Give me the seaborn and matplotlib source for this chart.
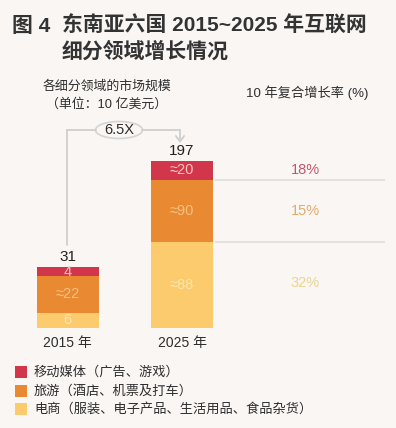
import matplotlib
matplotlib.use("Agg")
import matplotlib.pyplot as plt
import seaborn as sns
import pandas as pd
from matplotlib.patches import Ellipse, Rectangle, FancyArrowPatch
from matplotlib.lines import Line2D

# ---------------- data ----------------
years = ["2015 年", "2025 年"]
segments = ["电商", "旅游", "移动媒体"]  # bottom -> top
# drawn segment heights (chart is illustrative)
ecom_h = [15, 86]
travel_h = [37, 62]
mobile_h = [9, 19]
# printed labels
ecom_lbl = ["6", "≈88"]
travel_lbl = ["≈22", "≈90"]
mobile_lbl = ["4", "≈20"]
totals = ["31", "197"]
growth = ["18%", "15%", "32%"]  # mobile, travel, ecom
legend_labels = ["移动媒体（广告、游戏）", "旅游（酒店、机票及打车）", "电商（服装、电子产品、生活用品、食品杂货）"]

# ---------------- style ----------------
sns.set_style("white")
plt.rcParams["font.family"] = ["Liberation Sans", "Noto Sans CJK SC", "DejaVu Sans"]
BG = "#faf6f4"
RED = "#d2364b"
ORANGE = "#e98a32"
YELLOW = "#fbcb6e"
TXT = "#2e2e2e"

W, H = 396, 428
fig = plt.figure(figsize=(W / 100, H / 100), dpi=100, facecolor=BG)

def fx(px):
    return px / W

def fy(py):
    return 1 - py / H

# axes: bars baseline at y=328px, x centres at 67.5 and 182 px
base_px = 328
ax = fig.add_axes([0, fy(base_px), 1, base_px / H])
ax.set_facecolor("none")
step = 114.5
c0 = 67.5

df = pd.DataFrame({
    "year": years,
    "ecom": ecom_h,
    "travel": travel_h,
    "mobile": mobile_h,
})
df["c1"] = df["ecom"]
df["c2"] = df["ecom"] + df["travel"]
df["c3"] = df["c2"] + df["mobile"]

bw = 62 / step
sns.barplot(data=df, x="year", y="c3", color=RED, width=bw, saturation=1, ax=ax, linewidth=0)
sns.barplot(data=df, x="year", y="c2", color=ORANGE, width=bw, saturation=1, ax=ax, linewidth=0)
sns.barplot(data=df, x="year", y="c1", color=YELLOW, width=bw, saturation=1, ax=ax, linewidth=0)
ax.set_xlim(-c0 / step, (W - c0) / step)
ax.set_ylim(0, base_px)
ax.axis("off")

# segment labels
for i in range(2):
    ax.text(i, df["c1"][i] / 2, ecom_lbl[i], ha="center", va="center", color="#fce6a8", fontsize=10.5)
    ax.text(i, df["c1"][i] + df["travel"][i] / 2, travel_lbl[i], ha="center", va="center", color="#f8c080", fontsize=10.5)
    ax.text(i, df["c2"][i] + df["mobile"][i] / 2, mobile_lbl[i], ha="center", va="center",
            color="#f7c4c4", fontsize=10.5)
    ax.text(i, df["c3"][i] + 3, totals[i], ha="center", va="bottom", color="#222222", fontsize=11)

# right-side separators and growth labels
sep_y = [df["c2"][1], df["c1"][1]]
for yv in sep_y:
    ax.plot([(215 - c0) / step, (385 - c0) / step], [yv, yv], color="#e0dcda", lw=1.2, solid_capstyle="butt")
gx = (305 - c0) / step
mid_mobile = df["c2"][1] + df["mobile"][1] / 2
mid_travel = df["c1"][1] + df["travel"][1] / 2
mid_ecom = df["c1"][1] / 2 + 2
ax.text(gx, mid_mobile, growth[0], ha="center", va="center", color="#c4566c", fontsize=10.5)
ax.text(gx, mid_travel, growth[1], ha="center", va="center", color="#e4aa6c", fontsize=10.5)
ax.text(gx, mid_ecom, growth[2], ha="center", va="center", color="#ead690", fontsize=10.5)

# ---------------- texts ----------------
TF = ["Liberation Sans", "Noto Sans CJK SC"]
fig.text(fx(12), fy(26), "图 4", fontsize=15, fontweight="bold", color="#333333", va="center", family=TF)
fig.text(fx(62), fy(26), "东南亚六国 2015~2025 年互联网", fontsize=15, fontweight="bold", color="#333333",
         va="center", family=TF)
fig.text(fx(62), fy(52), "细分领域增长情况", fontsize=15, fontweight="bold", color="#333333", va="center", family=TF)

fig.text(fx(107), fy(86), "各细分领域的市场规模", fontsize=9.3, color=TXT, ha="center", va="center")
fig.text(fx(107), fy(104), "（单位：10 亿美元）", fontsize=9.3, color=TXT, ha="center", va="center")
fig.text(fx(307), fy(93), "10 年复合增长率 (%)", fontsize=9.5, color=TXT, ha="center", va="center")

fig.text(fx(67), fy(343), years[0], fontsize=10, color=TXT, ha="center", va="center")
fig.text(fx(183), fy(343), years[1], fontsize=10, color=TXT, ha="center", va="center")

# connector with 6.5X
lc = "#cfcfcf"
fig.add_artist(Line2D([fx(67), fx(67)], [fy(245), fy(130)], color=lc, lw=1.3, transform=fig.transFigure))
fig.add_artist(Line2D([fx(67), fx(96)], [fy(130), fy(130)], color=lc, lw=1.3, transform=fig.transFigure))
fig.add_artist(Line2D([fx(142), fx(180)], [fy(130), fy(130)], color=lc, lw=1.3, transform=fig.transFigure))
fig.add_artist(FancyArrowPatch((fx(180), fy(130)), (fx(180), fy(143)), transform=fig.transFigure,
                               arrowstyle="->,head_length=4,head_width=3", color=lc, lw=1.3,
                               shrinkA=0, shrinkB=0))
fig.add_artist(Ellipse((fx(119), fy(130)), 47 / W, 17 / H, transform=fig.transFigure,
                       facecolor=BG, edgecolor="#d4d4d4", lw=1.2))
fig.text(fx(119), fy(130), "6.5X", fontsize=10.5, color=TXT, ha="center", va="center")

# legend
leg_colors = [RED, ORANGE, YELLOW]
leg_y = [372, 391, 409]
for c, yv, t in zip(leg_colors, leg_y, legend_labels):
    fig.add_artist(Rectangle((fx(15), fy(yv + 6)), 12 / W, 12 / H, transform=fig.transFigure,
                             facecolor=c, edgecolor="none"))
    fig.text(fx(34), fy(yv), t, fontsize=9.5, color=TXT, va="center")

fig.savefig("out.png", dpi=100, facecolor=BG)
